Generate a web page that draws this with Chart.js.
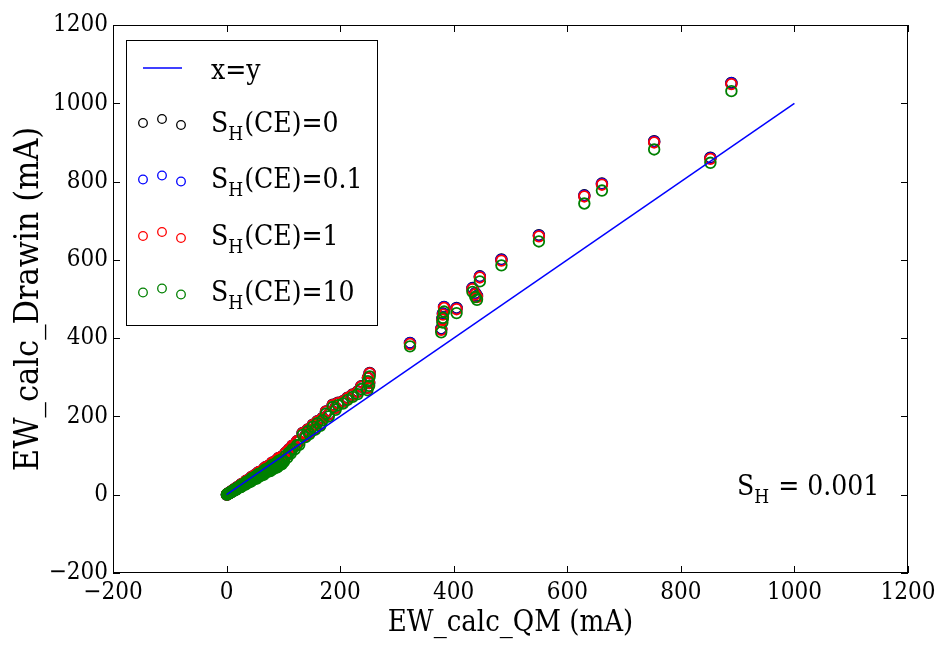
<!DOCTYPE html>
<html>
<head>
<meta charset="utf-8">
<script src="https://cdn.jsdelivr.net/npm/chart.js@4.4.1/dist/chart.umd.min.js"></script>
<style>
  html, body { margin: 0; padding: 0; background: #fff; }
  #wrap { width: 941px; height: 645px; position: relative; }
</style>
</head>
<body>
<div id="wrap"><canvas id="chart"></canvas></div>
<script>
const FONT = "'DejaVu Serif Condensed', 'DejaVu Serif', serif";

const axisMin = -200;
const axisMax = 1200;
const axisStep = 200;

// x = y reference line
const lineX = [0, 1000];
const lineY = [0, 1000];

// EW_calc_QM (mA), shared by all four series
const ewQM = [
  0.5, 1, 1.5, 2, 3, 4, 5, 6, 7, 8, 9, 10, 12, 13, 15, 17, 19, 21, 23, 25,
  27, 29, 31, 33, 35, 37, 40, 42, 45, 47, 50, 53, 56, 59, 62, 65, 68, 71, 74, 77,
  80, 83, 86, 89, 92, 95, 98, 101, 104, 107, 110, 113, 116, 120, 124, 128,
  134, 139, 143, 146, 152, 156, 160, 165, 169, 175, 180, 187, 192, 196, 205, 213,
  222, 231, 237, 248, 249, 251, 252,
  323, 378, 380, 381, 383, 405, 433, 438, 441, 446, 484, 550, 630, 661, 753, 852, 889,
  11, 14, 16, 18, 20, 22, 24, 26, 28, 30, 32, 34, 36, 38, 39, 41, 43, 44, 46, 48,
  49, 51, 52, 54, 55, 57, 58, 60, 61, 63, 64, 66, 67, 69, 70, 72, 73, 75, 76, 78,
  79, 81, 82, 84, 85, 87, 88, 90, 91, 93, 94, 96, 97, 99, 100
];

// EW_calc_Drawin (mA) for S_H(CE) = 0
const ewS0 = [
  0.5, 0.9, 1.5, 1.7, 3.1, 3.5, 4.9, 5.0, 7.1, 7.0, 8.7, 8.4, 12.2, 11.4, 14.6, 14.3, 19.4, 18.5, 22.3, 21.0,
  27.5, 25.5, 30.1, 27.7, 35.7, 32.6, 38.8, 35.3, 45.9, 41.4, 48.5, 44.5, 57.1, 51.9, 60.1, 54.6, 69.4, 62.5, 71.8, 64.7,
  81.6, 73.0, 83.4, 74.8, 93.8, 83.6, 95.1, 90.9, 107.1, 101.7, 115.5, 113, 125.3, 124.8, 136.4, 137,
  158, 151, 167, 159, 179, 171, 188, 181, 196, 213, 206, 230, 223, 235, 239, 248,
  256, 264, 277, 274, 299, 286, 311,
  388, 424, 450, 463, 480, 477, 528, 515, 508, 558, 601, 663, 765, 795, 903, 861, 1052,
  10.2, 14, 13.8, 17.3, 18, 20.5, 24, 22.4, 26.9, 27, 29.8, 34, 31, 36.5, 35.1, 38.1, 43, 37.8, 44.2, 43.2,
  45.6, 51, 44.7, 51.8, 49.5, 53, 58, 51.6, 58.6, 56.7, 59.5, 66, 57.6, 66.2, 63, 67, 73, 64.5, 73, 70.2,
  73.5, 81, 70.5, 80.6, 76.5, 80.9, 88, 77.4, 87.4, 83.7, 87.4, 96, 83.4, 95, 90
];

// S_H(CE) = 0.1
const ewS01 = [
  0.5, 0.9, 1.5, 1.7, 3.1, 3.5, 4.9, 5.0, 7.1, 7.0, 8.7, 8.4, 12.2, 11.4, 14.6, 14.3, 19.4, 18.5, 22.3, 21.0,
  27.5, 25.5, 30.1, 27.7, 35.7, 32.6, 38.8, 35.3, 45.9, 41.4, 48.5, 44.5, 57.1, 51.9, 60.1, 54.6, 69.4, 62.5, 71.8, 64.7,
  81.6, 73.0, 83.4, 74.8, 93.8, 83.6, 95.1, 90.9, 107.1, 101.7, 115.5, 113, 125.3, 124.8, 136.4, 137,
  157, 150, 166, 158, 178, 170, 187, 180, 195, 212, 205, 229, 222, 234, 238, 247,
  255, 263, 276, 273, 298, 285, 310,
  387, 423, 449, 462, 479, 476, 527, 514, 507, 557, 600, 662, 764, 794, 902, 860, 1051,
  10.2, 14, 13.8, 17.3, 18, 20.5, 24, 22.4, 26.9, 27, 29.8, 34, 31, 36.5, 35.1, 38.1, 43, 37.8, 44.2, 43.2,
  45.6, 51, 44.7, 51.8, 49.5, 53, 58, 51.6, 58.6, 56.7, 59.5, 66, 57.6, 66.2, 63, 67, 73, 64.5, 73, 70.2,
  73.5, 81, 70.5, 80.6, 76.5, 80.9, 88, 77.4, 87.4, 83.7, 87.4, 96, 83.4, 95, 90
];

// S_H(CE) = 1
const ewS1 = [
  0.5, 0.9, 1.5, 1.7, 3.1, 3.5, 4.9, 5.0, 7.1, 7.0, 8.7, 8.4, 12.2, 11.4, 14.6, 14.3, 19.4, 18.5, 22.3, 21.0,
  27.5, 25.5, 30.1, 27.7, 35.7, 32.6, 38.8, 35.3, 45.9, 41.4, 48.5, 44.5, 57.1, 51.9, 60.1, 54.6, 69.4, 62.5, 71.8, 64.7,
  81.6, 73.0, 83.4, 74.8, 93.8, 83.6, 95.1, 90.9, 107.1, 101.7, 115.5, 113, 125.3, 124.8, 136.4, 137,
  157, 150, 166, 158, 178, 170, 187, 180, 195, 212, 205, 229, 222, 234, 238, 247,
  255, 263, 276, 273, 298, 285, 310,
  385, 421, 447, 460, 477, 474, 525, 512, 505, 555, 598, 660, 762, 792, 900, 858, 1049,
  10.2, 14, 13.8, 17.3, 18, 20.5, 24, 22.4, 26.9, 27, 29.8, 34, 31, 36.5, 35.1, 38.1, 43, 37.8, 44.2, 43.2,
  45.6, 51, 44.7, 51.8, 49.5, 53, 58, 51.6, 58.6, 56.7, 59.5, 66, 57.6, 66.2, 63, 67, 73, 64.5, 73, 70.2,
  73.5, 81, 70.5, 80.6, 76.5, 80.9, 88, 77.4, 87.4, 83.7, 87.4, 96, 83.4, 95, 90
];

// S_H(CE) = 10
const ewS10 = [
  0.5, 0.8, 1.4, 1.6, 2.9, 3.3, 4.6, 4.7, 6.6, 6.5, 8.1, 7.8, 11.3, 10.6, 13.6, 13.3, 18.0, 17.2, 20.7, 19.5,
  25.6, 23.7, 28.0, 25.8, 33.2, 30.3, 36.1, 32.8, 42.7, 38.5, 45.1, 41.4, 53.1, 48.3, 55.9, 50.8, 64.5, 58.1, 66.8, 60.2,
  75.9, 67.9, 77.6, 69.6, 87.2, 77.7, 88.4, 84.5, 99.6, 94.6, 107.4, 105.1, 116.5, 116.1, 126.9, 127.4,
  153, 147, 162, 155, 174, 166, 183, 176, 190, 207, 200, 224, 217, 229, 233, 242,
  250, 257, 270, 267, 290, 278, 302,
  379, 415, 440, 452, 468, 464, 518, 505, 498, 545, 586, 647, 744, 777, 882, 848, 1031,
  9.5, 13.0, 12.8, 16.1, 16.7, 19.1, 22.3, 20.8, 25.0, 25.1, 27.7, 31.6, 28.8, 33.9, 32.6, 35.4, 40.0, 35.2, 41.1, 40.2,
  42.4, 47.4, 41.6, 48.2, 46.0, 49.3, 53.9, 48.0, 54.5, 52.7, 55.3, 61.4, 53.6, 61.6, 58.6, 62.3, 67.9, 60.0, 67.9, 65.3,
  68.4, 75.3, 65.6, 75.0, 71.1, 75.2, 81.8, 72.0, 81.3, 77.8, 81.3, 89.3, 77.6, 88.4, 83.7
];

const seriesValues = [ewS0, ewS01, ewS1, ewS10];
const seriesSub = ["0", "0.1", "1", "10"];
const seriesColors = ["#000000", "#0000ff", "#ff0000", "#008000"];

function toPoints(xs, ys) {
  return xs.map((x, i) => ({ x, y: ys[i] }));
}

function fmtTick(value) {
  return value < 0 ? "\u2212" + Math.abs(value) : String(value);
}

// S with subscript H, then the rest of the label
function drawSubLabel(ctx, x, baseline, rest, size) {
  ctx.font = `${size}px ${FONT}`;
  ctx.fillText("S", x, baseline);
  let cx = x + ctx.measureText("S").width;
  const subSize = Math.round(size * 0.68);
  ctx.font = `${subSize}px ${FONT}`;
  ctx.fillText("H", cx, baseline + size * 0.3);
  cx += ctx.measureText("H").width + 1;
  ctx.font = `${size}px ${FONT}`;
  ctx.fillText(rest, cx, baseline);
}

const frameAndLegend = {
  id: "frameAndLegend",
  afterDatasetsDraw(chart) {
    const { ctx, chartArea: a } = chart;
    const xs = chart.scales.x;
    const ys = chart.scales.y;
    const tick = 7;

    ctx.save();
    ctx.strokeStyle = "#000";
    ctx.lineWidth = 1;
    ctx.strokeRect(a.left + 0.5, a.top + 0.5, a.right - a.left - 1, a.bottom - a.top - 1);

    ctx.beginPath();
    xs.ticks.forEach((t) => {
      const px = Math.round(xs.getPixelForValue(t.value)) + 0.5;
      ctx.moveTo(px, a.bottom); ctx.lineTo(px, a.bottom - tick);
      ctx.moveTo(px, a.top); ctx.lineTo(px, a.top + tick);
    });
    ys.ticks.forEach((t) => {
      const py = Math.round(ys.getPixelForValue(t.value)) + 0.5;
      ctx.moveTo(a.left, py); ctx.lineTo(a.left + tick, py);
      ctx.moveTo(a.right, py); ctx.lineTo(a.right - tick, py);
    });
    ctx.stroke();

    // legend box
    const lx = a.left + 13;
    const ly = a.top + 15;
    ctx.fillStyle = "#fff";
    ctx.fillRect(lx, ly, 251, 285);
    ctx.strokeRect(lx + 0.5, ly + 0.5, 251, 285);

    const textX = lx + 85;
    ctx.fillStyle = "#000";
    ctx.textBaseline = "alphabetic";
    ctx.textAlign = "left";

    ctx.strokeStyle = "#0000ff";
    ctx.lineWidth = 1.5;
    ctx.beginPath();
    ctx.moveTo(lx + 17, ly + 28);
    ctx.lineTo(lx + 56, ly + 28);
    ctx.stroke();
    ctx.font = `28px ${FONT}`;
    ctx.fillText("x=y", textX, ly + 39);

    const markDx = [17, 36, 55];
    const markDy = [-8.5, -12.5, -6.5];
    seriesSub.forEach((label, i) => {
      const base = ly + 91.5 + i * 56.5;
      ctx.strokeStyle = seriesColors[i];
      ctx.lineWidth = 1.3;
      markDx.forEach((dx, k) => {
        ctx.beginPath();
        ctx.arc(lx + dx, base + markDy[k], 4.3, 0, Math.PI * 2);
        ctx.stroke();
      });
      ctx.fillStyle = "#000";
      drawSubLabel(ctx, textX, base, "(CE)=" + label, 28);
    });

    // annotation
    drawSubLabel(ctx, 737, 495, " = 0.001", 28);
    ctx.restore();
  },
};

const datasets = [
  {
    type: "line",
    label: "x=y",
    data: toPoints(lineX, lineY),
    borderColor: "#0000ff",
    borderWidth: 1.5,
    pointRadius: 0,
    fill: false,
    order: 0,
  },
].concat(
  seriesValues.map((vals, i) => ({
    type: "scatter",
    label: "S_H(CE)=" + seriesSub[i],
    data: toPoints(ewQM, vals),
    borderColor: seriesColors[i],
    backgroundColor: "rgba(0,0,0,0)",
    borderWidth: 1.8,
    pointRadius: 5.3,
    order: 4 - i,
  })),
);

new Chart(document.getElementById("chart"), {
  type: "scatter",
  data: { datasets },
  plugins: [frameAndLegend],
  options: {
    responsive: true,
    maintainAspectRatio: false,
    animation: false,
    layout: { padding: { left: 0, right: 33, top: 25, bottom: 0 } },
    plugins: {
      legend: { display: false },
      tooltip: { enabled: false },
    },
    scales: {
      x: {
        type: "linear",
        min: axisMin,
        max: axisMax,
        afterFit(scale) { scale.height = 72; },
        ticks: {
          stepSize: axisStep,
          color: "#000",
          padding: 5,
          maxRotation: 0,
          font: { family: FONT, size: 24 },
          callback: fmtTick,
        },
        grid: { display: false, drawTicks: false },
        border: { display: false },
        title: {
          display: true,
          text: "EW_calc_QM (mA)",
          color: "#000",
          font: { family: FONT, size: 29 },
          padding: { top: 0, bottom: 4 },
        },
      },
      y: {
        type: "linear",
        min: axisMin,
        max: axisMax,
        afterFit(scale) { scale.width = 113; },
        ticks: {
          stepSize: axisStep,
          color: "#000",
          padding: 5,
          font: { family: FONT, size: 24 },
          callback: fmtTick,
        },
        grid: { display: false, drawTicks: false },
        border: { display: false },
        title: {
          display: true,
          text: "EW_calc_Drawin (mA)",
          color: "#000",
          font: { family: FONT, size: 34 },
          padding: { top: 9, bottom: 0 },
        },
      },
    },
  },
});
</script>
</body>
</html>
